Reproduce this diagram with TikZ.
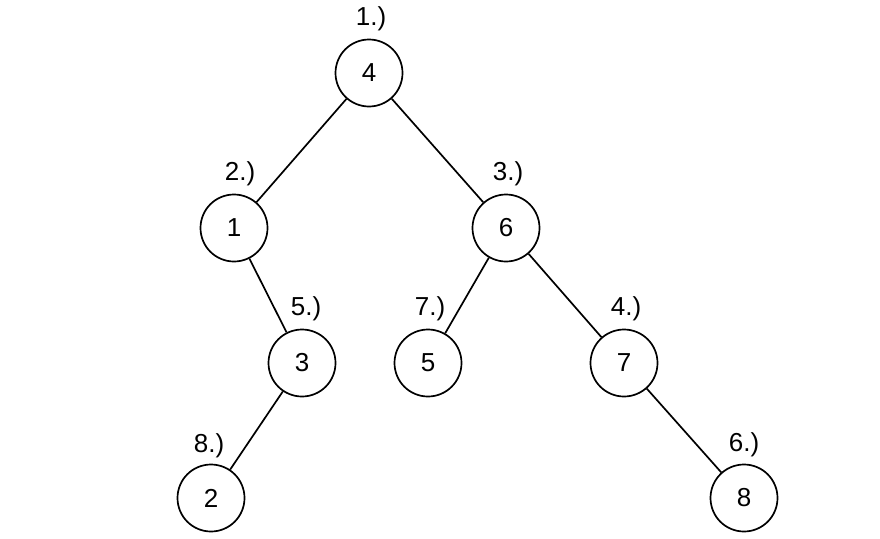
\documentclass[tikz,border=0pt]{standalone}
\usepackage{fontspec}
\setmainfont{Liberation Sans}
\begin{document}
\begin{tikzpicture}[x=1pt,y=-1pt,
  treenode/.style={circle,draw=black,line width=1.7pt,minimum size=67pt,inner sep=0pt,font=\fontsize{26}{30}\selectfont},
  ordlabel/.style={inner sep=0pt,font=\fontsize{26}{30}\selectfont},
  edge/.style={line width=1.7pt}]
\useasboundingbox (0,0) rectangle (880,538);
\node[treenode] (n4) at (369,73) {4};
\node[treenode] (n1) at (234,228) {1};
\node[treenode] (n6) at (506,228) {6};
\node[treenode] (n3) at (302,363) {3};
\node[treenode] (n5) at (428,363) {5};
\node[treenode] (n7) at (624,363) {7};
\node[treenode] (n2) at (211,498) {2};
\node[treenode] (n8) at (744,498) {8};
\node[ordlabel] (l1) at (371,19) {1.)};
\node[ordlabel] (l2) at (240,174) {2.)};
\node[ordlabel] (l3) at (508,174) {3.)};
\node[ordlabel] (l5) at (306,309) {5.)};
\node[ordlabel] (l7) at (430,309) {7.)};
\node[ordlabel] (l4) at (626,309) {4.)};
\node[ordlabel] (l8) at (209,446) {8.)};
\node[ordlabel] (l6) at (744,445) {6.)};
\draw[edge] (n4) -- (n1);
\draw[edge] (n4) -- (n6);
\draw[edge] (n1) -- (n3);
\draw[edge] (n3) -- (n2);
\draw[edge] (n6) -- (n5);
\draw[edge] (n6) -- (n7);
\draw[edge] (n7) -- (n8);
\end{tikzpicture}
\end{document}
